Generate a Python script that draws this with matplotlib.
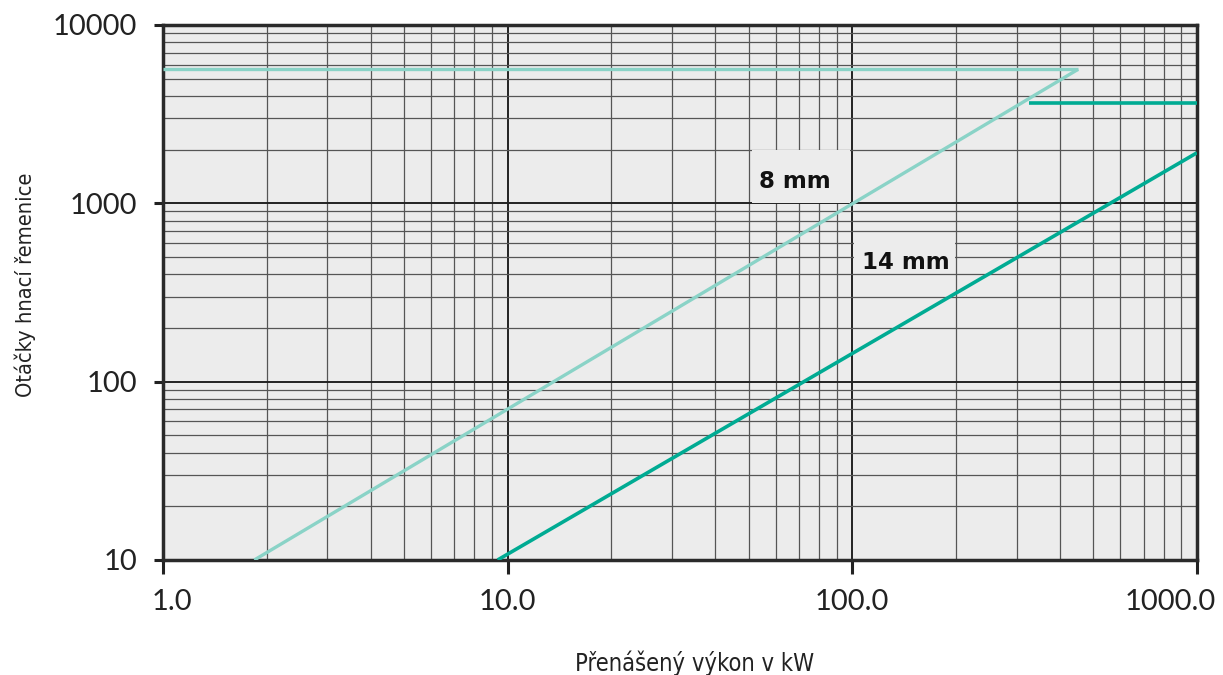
import matplotlib
matplotlib.use("Agg")
import matplotlib.pyplot as plt
from matplotlib.ticker import FixedLocator, LogLocator, NullFormatter
from matplotlib.transforms import ScaledTranslation
from matplotlib.patches import Rectangle

# Belt pitch capacity curves (power kW vs. driver pulley speed rpm)
belt_8mm_x = [1.0, 452.0]          # speed limit line
belt_8mm_limit = [5640, 5640]
belt_8mm_diag_x = [1.84, 452.0]
belt_8mm_diag_y = [10, 5640]

belt_14mm_x = [326.0, 1000.0]
belt_14mm_limit = [3630, 3630]
belt_14mm_diag_x = [9.35, 1000.0]
belt_14mm_diag_y = [10, 1920]

x_ticks = [1, 10, 100, 1000]
x_tick_labels = ["1.0", "10.0", "100.0", "1000.0"]
y_ticks = [10, 100, 1000, 10000]
y_tick_labels = ["10", "100", "1000", "10000"]

labels = ["8 mm", "14 mm"]
label_pos = [(68.2, 1320), (143, 465)]
# background patches behind the labels: (x0, x1, y0, y1)
label_boxes = [(51, 98.5, 1010, 1980), (101, 198, 405, 650)]

tick_font = "Lato"

fig = plt.figure(figsize=(12.23, 6.75), dpi=100)
ax = fig.add_axes([0.1333, 0.1704, 0.9787 - 0.1333, 0.963 - 0.1704])
ax.set_facecolor("#ececec")
ax.set_xscale("log")
ax.set_yscale("log")
ax.set_xlim(1, 1000)
ax.set_ylim(10, 10000)

ax.xaxis.set_major_locator(FixedLocator(x_ticks))
ax.yaxis.set_major_locator(FixedLocator(y_ticks))
ax.xaxis.set_minor_locator(LogLocator(base=10, subs=range(2, 10)))
ax.yaxis.set_minor_locator(LogLocator(base=10, subs=range(2, 10)))
ax.xaxis.set_minor_formatter(NullFormatter())
ax.yaxis.set_minor_formatter(NullFormatter())
ax.set_xticklabels(x_tick_labels, fontsize=21, family=tick_font, color="#222222")
ax.set_yticklabels(y_tick_labels, fontsize=21, family=tick_font, color="#222222")

ax.grid(which="major", color="#222222", linewidth=1.4)
ax.grid(which="minor", color="#555555", linewidth=0.9)
ax.set_axisbelow(True)

ax.tick_params(axis="x", which="major", direction="out", length=10, width=2.2, color="#222222", pad=11)
ax.tick_params(axis="y", which="major", direction="out", length=6.5, width=2.2, color="#222222", pad=12)
ax.tick_params(which="minor", length=0)
for s in ax.spines.values():
    s.set_linewidth(2.5)
    s.set_color("#2a2a2a")

# nudge the outer x tick labels inward
xlabs = ax.get_xticklabels()
xlabs[0].set_transform(xlabs[0].get_transform() + ScaledTranslation(0.09, 0, fig.dpi_scale_trans))
xlabs[-1].set_transform(xlabs[-1].get_transform() + ScaledTranslation(-0.27, 0, fig.dpi_scale_trans))

light = "#8ad3c7"
dark = "#00ab93"
ax.plot(belt_8mm_x, belt_8mm_limit, color=light, lw=2.4, solid_capstyle="butt", zorder=3)
ax.plot(belt_8mm_diag_x, belt_8mm_diag_y, color=light, lw=2.4, solid_capstyle="butt", zorder=3)
ax.plot(belt_14mm_x, belt_14mm_limit, color=dark, lw=2.6, solid_capstyle="butt", zorder=3)
ax.plot(belt_14mm_diag_x, belt_14mm_diag_y, color=dark, lw=2.6, solid_capstyle="butt", zorder=3)

for (x0, x1, y0, y1) in label_boxes:
    ax.add_patch(Rectangle((x0, y0), x1 - x0, y1 - y0, facecolor="#ececec",
                           edgecolor="none", zorder=1))

for txt, (lx, ly) in zip(labels, label_pos):
    ax.text(lx, ly, txt, fontsize=16.5, fontweight="bold", family="DejaVu Sans",
            ha="center", va="center", color="#111111", zorder=4)

fig.text(695 / 1223, 1 - 663 / 675, "Přenášený výkon v kW", fontsize=17, family="DejaVu Sans",
         fontstretch="condensed", color="#222222", ha="center", va="center")
fig.text(25 / 1223, 1 - 285 / 675, "Otáčky hnací řemenice", fontsize=15.7, family="DejaVu Sans",
         fontstretch="condensed", color="#222222", ha="center", va="center", rotation=90)

fig.savefig("out.png", dpi=100, facecolor="white")
